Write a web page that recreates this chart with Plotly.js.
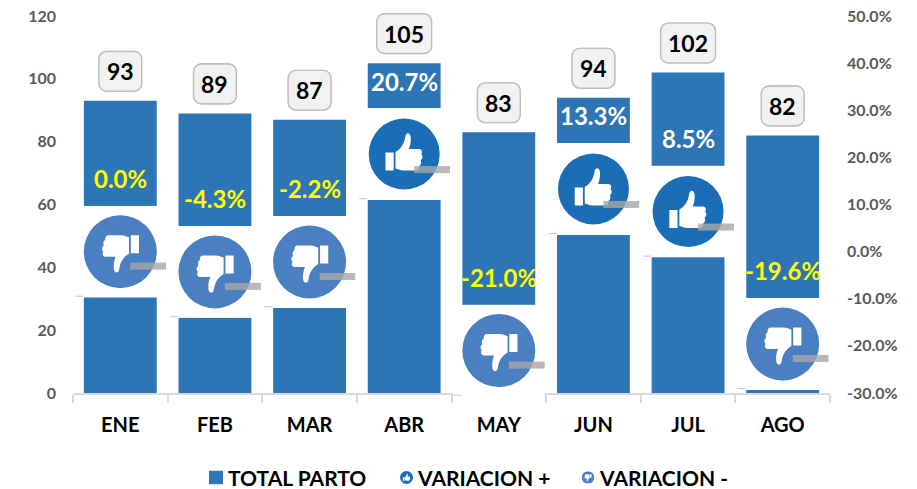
<!DOCTYPE html>
<html><head><meta charset="utf-8">
<script src="https://cdn.plot.ly/plotly-3.0.1.min.js"></script>
<style>html,body{margin:0;padding:0;background:#fff}</style>
</head><body><div id="chart" style="width:917px;height:489px"></div>
<script>
const months = ['ENE','FEB','MAR','ABR','MAY','JUN','JUL','AGO'];
const totalParto = [93,89,87,105,83,94,102,82];
const variacion = [0.0,-4.3,-2.2,20.7,-21.0,13.3,8.5,-19.6];
const y2Ticks = [-30,-20,-10,0,10,20,30,40,50];
const y2TickLabels = ['-30.0%','-20.0%','-10.0%','0.0%','10.0%','20.0%','30.0%','40.0%','50.0%'];
const legendNames = ['TOTAL PARTO','VARIACION +','VARIACION -'];
const barColor = '#2e75b6', upColor = '#1b6db6', downColor = '#4a7fc1';

const thumb = 'M-18.7 -1.5H-10.5V16.5H-18.7Z M-8.7 -2 C-3.5 -5 0 -10 1 -17 C1.5 -22 6 -22 6.5 -17 C7 -11 5.5 -7 4.5 -5 H15 C18 -5 18.5 -1 17 0 C19 2 18.5 5 16.5 6 C17.5 8 17 11 15 12 C15.5 14.5 14 16.5 12 16.5 H-1 C-4 16.5 -6 15 -8.7 14.5Z';
function iconSvg(up, mini){
  const col = up ? upColor : downColor;
  const t = up ? '' : 'transform="rotate(180)"';
  const svg = `<svg xmlns="http://www.w3.org/2000/svg" width="368" height="368" viewBox="-46 -46 92 92">`+
   (mini?'':`<rect x="-46" y="-46" width="92" height="92" fill="#fff"/>`)+
   `<circle r="${mini?46:(up?35.5:36.5)}" fill="${col}"/>`+
   `<g ${mini?'transform="scale(1.4)"':''}><path d="${thumb}" fill="#fff" ${t}/></g>`+
   (mini?'':`<rect x="10" y="${up?12:11}" width="36" height="7" fill="#a8a8a8" fill-opacity="0.8"/>`+
   `<rect x="-45" y="44" width="8" height="1.2" fill="#cfcfcf"/>`)+`</svg>`;
  return 'data:image/svg+xml;charset=utf-8,'+encodeURIComponent(svg);
}
function boxSvg(w){
  const svg = `<svg xmlns="http://www.w3.org/2000/svg" width="${w*4}" height="168" viewBox="0 0 ${w} 42">`+
   `<rect x="1" y="1" width="${w-2}" height="40" rx="8" fill="#f2f2f2" stroke="#bfbfbf" stroke-width="1.6"/></svg>`;
  return 'data:image/svg+xml;charset=utf-8,'+encodeURIComponent(svg);
}
const squareSvg = 'data:image/svg+xml;charset=utf-8,'+encodeURIComponent(
  `<svg xmlns="http://www.w3.org/2000/svg" width="40" height="40"><rect width="40" height="40" fill="${barColor}"/></svg>`);
const plotW = 757, plotH = 377;
const pxPerCat = plotW/8;
const images = [], annotations = [];
months.forEach((m,i)=>{
  const v = variacion[i], t = totalParto[i];
  images.push({source:iconSvg(v>0), xref:'x', yref:'paper', x:m, y:(v+30)/80, sizex:92/pxPerCat, sizey:92/plotH,
    xanchor:'center', yanchor:'middle', sizing:'stretch', layer:'above'});
  const w = t>=100 ? 57 : 45;
  images.push({source:boxSvg(w), xref:'x', yref:'paper', x:m, y:t/120 + 29.5/plotH, sizex:w/pxPerCat, sizey:42/plotH,
    xanchor:'center', yanchor:'middle', sizing:'stretch', layer:'above'});
  annotations.push({xref:'x', yref:'y', x:m, y:t, yshift:29.5, text:String(t), showarrow:false,
    font:{family:'Lato', size:23, color:'#000', weight:700}});
  annotations.push({xref:'x', yref:'y2', x:m, y:v, yshift:73, text:v.toFixed(1)+'%', showarrow:false,
    font:{family:'Lato', size:24, color:v>0?'#ffffff':'#ffff00', weight:700}});
});
// legend row
const legX = [226,415,597], swatchX = [216,406.5,588], swatchS = [14,13,12.5], swatchSrc = [squareSvg, iconSvg(true,true), iconSvg(false,true)];
const legY = (393-477.5)/plotH;
legendNames.forEach((n,i)=>{
  annotations.push({xref:'paper', yref:'paper', x:(legX[i]-73)/plotW, y:legY, xanchor:'left', yanchor:'middle', text:n,
    showarrow:false, font:{family:'Lato', size:21, color:'#000', weight:700}});
  images.push({source:swatchSrc[i], xref:'paper', yref:'paper', x:(swatchX[i]-73)/plotW, y:legY, sizex:swatchS[i]/plotW, sizey:swatchS[i]/plotH,
    xanchor:'center', yanchor:'middle', sizing:'stretch', layer:'above'});
});
const traces = [
  {type:'bar', name:legendNames[0], x:months, y:totalParto, marker:{color:barColor}, yaxis:'y'},
  {type:'scatter', mode:'markers', name:legendNames[1], x:months, y:variacion.map(v=>v>0?v:null), yaxis:'y2', marker:{size:12,color:upColor}},
  {type:'scatter', mode:'markers', name:legendNames[2], x:months, y:variacion.map(v=>v>0?null:v), yaxis:'y2', marker:{size:12,color:downColor}}
];
const layout = {
  width:917, height:489, margin:{l:73,r:87,t:16,b:96}, paper_bgcolor:'#fff', plot_bgcolor:'#fff',
  bargap:0.23, showlegend:false,
  font:{family:'Lato'},
  xaxis:{type:'category', tickson:'boundaries', ticks:'outside', ticklen:8, tickwidth:2, tickcolor:'#d9d9d9',
    showline:true, linecolor:'#d9d9d9', linewidth:2, showgrid:false, zeroline:false, ticklabelstandoff:13,
    tickfont:{family:'Lato', size:20, color:'#000', weight:700}},
  yaxis:{range:[0,120], dtick:20, showgrid:false, zeroline:false, showline:false, ticks:'', ticklabelstandoff:16,
    tickfont:{family:'Lato', size:16, color:'#595959', weight:700}},
  yaxis2:{range:[-30,50], overlaying:'y', side:'right', tickmode:'array', tickvals:y2Ticks, ticktext:y2TickLabels,
    showgrid:false, zeroline:false, showline:false, ticks:'', ticklabelstandoff:16,
    tickfont:{family:'Lato', size:16, color:'#595959', weight:700}},
  images, annotations
};
Plotly.newPlot('chart', traces, layout, {displayModeBar:false, responsive:false});
</script></body></html>
